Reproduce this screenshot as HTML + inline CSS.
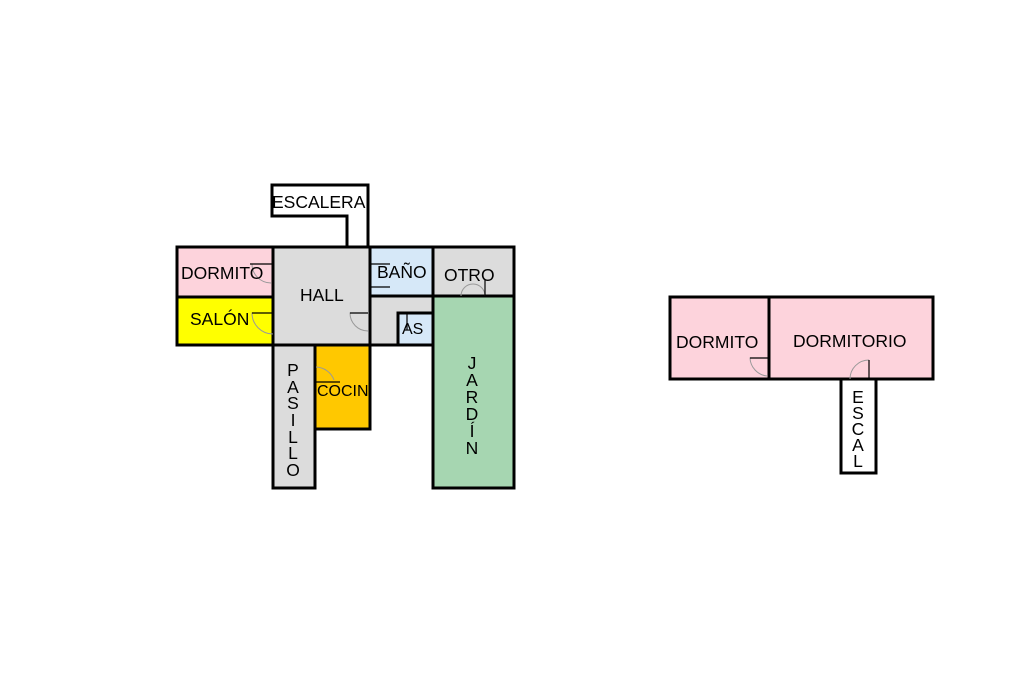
<!DOCTYPE html>
<html><head><meta charset="utf-8"><style>
html,body{margin:0;padding:0;background:#fff;}
svg{display:block}
text{font-family:"Liberation Sans",Arial,sans-serif;fill:#000;}
</style></head><body>
<svg width="1024" height="682" viewBox="0 0 1024 682" xmlns="http://www.w3.org/2000/svg">
<rect width="1024" height="682" fill="#fff"/>
<g stroke="#000" stroke-width="3" stroke-linejoin="miter">
<path d="M272 185 H368 V247 H347 V216 H272 Z" fill="#fff"/>
<rect x="177" y="247" width="96" height="50" fill="#fdd3dc"/>
<rect x="177" y="297" width="96" height="48" fill="#ffff00"/>
<rect x="273" y="247" width="97" height="98" fill="#dcdcdc"/>
<rect x="370" y="247" width="63" height="49" fill="#d6e8f8"/>
<rect x="433" y="247" width="81" height="49" fill="#dcdcdc"/>
<rect x="370" y="296" width="63" height="49" fill="#dcdcdc"/>
<rect x="398" y="313" width="35" height="32" fill="#d6e8f8"/>
<rect x="433" y="296" width="81" height="192" fill="#a6d6b1"/>
<rect x="273" y="345" width="42" height="143" fill="#dcdcdc"/>
<rect x="315" y="345" width="55" height="84" fill="#ffc800"/>
<rect x="670" y="297" width="99" height="82" fill="#fdd3dc"/>
<rect x="769" y="297" width="164" height="82" fill="#fdd3dc"/>
<rect x="841" y="379" width="35" height="94" fill="#fff"/>
</g>
<g fill="none" stroke="#999" stroke-width="1">
<path d="M271 264 H252 A19 19 0 0 0 271 283"/>
<path d="M273 313 H252 A21 21 0 0 0 273 334"/>
<path d="M368 313 H350 A18 18 0 0 0 368 331"/>
<path d="M461 296 A12 12 0 0 1 485 296"/>
<path d="M316 367 A20 20 0 0 1 334 380"/>
<path d="M767 358 H750 A19 19 0 0 0 767 376"/>
<path d="M850 379 A19 19 0 0 1 869 360"/>
</g>
<g stroke="#000" stroke-width="1.2" fill="none">
<path d="M250 264 H272"/><path d="M252 313 H273"/><path d="M350 313 H368"/>
<path d="M370 264 H390 M370 287 H390"/><path d="M485 296 V280"/>
<path d="M316 382 H340"/><path d="M750 358 H768"/><path d="M869 360 V379"/>
<path d="M407 313 V330"/>
</g>
<g font-size="17.5">
<text x="181" y="279">DORMITO</text>
<text x="190" y="325">SALÓN</text>
<text x="300" y="301">HALL</text>
<text x="377" y="278">BAÑO</text>
<text x="444" y="281">OTRO</text>
<text x="402" y="334" font-size="16">AS</text>
<text x="317" y="396" font-size="16">COCIN</text>
<text x="272" y="208">ESCALERA</text>
<text x="676" y="348">DORMITO</text>
<text x="793" y="347">DORMITORIO</text>
</g>
<g font-size="17.5" text-anchor="middle">
<text x="293" y="376">P</text><text x="293" y="393">A</text><text x="293" y="409">S</text>
<text x="293" y="426">I</text><text x="293" y="443">L</text><text x="293" y="459">L</text>
<text x="293" y="476">O</text>
<text x="472" y="369">J</text><text x="472" y="386">A</text><text x="472" y="403">R</text>
<text x="472" y="420">D</text><text x="472" y="437">Í</text><text x="472" y="454">N</text>
<text x="858" y="403">E</text><text x="858" y="419">S</text><text x="858" y="435">C</text>
<text x="858" y="451">A</text><text x="858" y="467">L</text>
</g>
</svg>
</body></html>
